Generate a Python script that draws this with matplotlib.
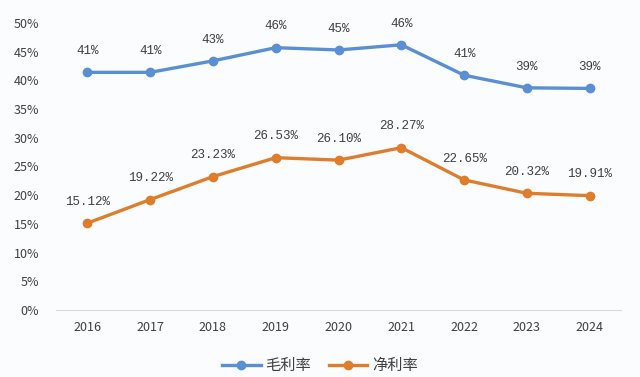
import matplotlib.pyplot as plt

years = ['2016', '2017', '2018', '2019', '2020', '2021', '2022', '2023', '2024']
gross_margin = [41.4, 41.4, 43.4, 45.7, 45.3, 46.2, 40.9, 38.7, 38.6]
gross_labels = ['41%', '41%', '43%', '46%', '45%', '46%', '41%', '39%', '39%']
net_margin = [15.12, 19.22, 23.23, 26.53, 26.10, 28.27, 22.65, 20.32, 19.91]
net_labels = ['15.12%', '19.22%', '23.23%', '26.53%', '26.10%', '28.27%', '22.65%', '20.32%', '19.91%']

blue = '#5b8fd4'
orange = '#e07d2c'
text_color = '#404040'
bg = '#fbfcfe'

plt.rcParams['font.family'] = ['Noto Sans CJK SC', 'DejaVu Sans']

fig = plt.figure(figsize=(6.4, 3.77), dpi=100, facecolor=bg)
ax = fig.add_axes([0.0875, 0.178, 0.883, 0.761])
ax.set_facecolor(bg)

x = range(len(years))
l1, = ax.plot(x, gross_margin, color=blue, lw=2.4, marker='o', ms=6, label='毛利率')
l2, = ax.plot(x, net_margin, color=orange, lw=2.4, marker='o', ms=6, label='净利率')

# value labels above each point
for series, labels in ((gross_margin, gross_labels), (net_margin, net_labels)):
    for xi, v, s in zip(x, series, labels):
        ax.annotate(s, (xi, v), xytext=(0, 11), textcoords='offset points', ha='center',
                    va='bottom', fontsize=9, color=text_color, family='Liberation Mono')

ax.set_xlim(-0.5, len(years) - 0.5)
ax.set_ylim(0, 50)
ax.set_xticks(list(x))
ax.set_xticklabels(years)
ax.set_yticks(range(0, 51, 5))
ax.set_yticklabels([f'{v}%' for v in range(0, 51, 5)])
ax.tick_params(length=0, labelsize=9, colors=text_color, pad=8)
ax.tick_params(axis='y', pad=12)
for side in ('top', 'right', 'left'):
    ax.spines[side].set_visible(False)
ax.spines['bottom'].set_color('#d9d9d9')

fig.legend(handles=[l1, l2], loc='center', bbox_to_anchor=(0.5, 0.03), ncol=2,
           frameon=False, fontsize=11, labelcolor=text_color, handlelength=2.5,
           columnspacing=1.2, handletextpad=0.3)

fig.savefig('out.png', dpi=100, facecolor=bg)
